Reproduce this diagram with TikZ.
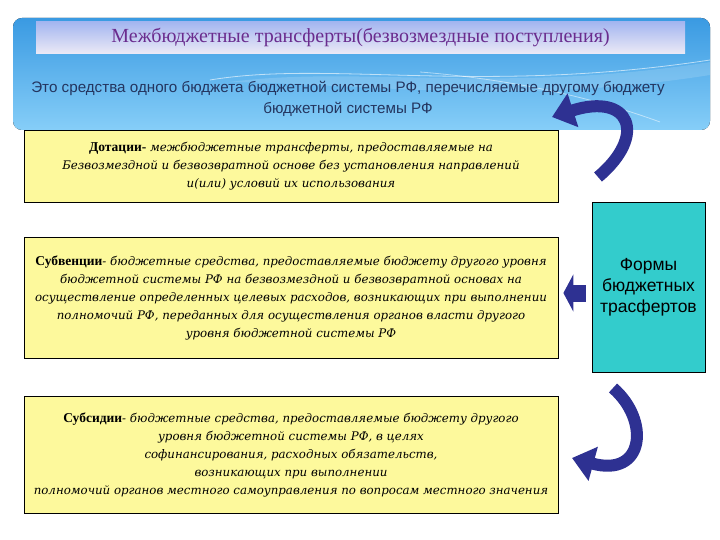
\documentclass[tikz,border=0pt]{standalone}
\usepackage{fontspec}
\setmainfont{Liberation Serif}
\newfontfamily\sansru{Liberation Sans}
\newfontfamily\serifwide{DejaVu Serif}
\usetikzlibrary{arrows.meta, positioning, calc}

\definecolor{bannertop}{HTML}{3A9AE2}
\definecolor{bannerbot}{HTML}{86CEF8}
\definecolor{titletop}{HTML}{A4B6F0}
\definecolor{titlebot}{HTML}{ECEAF6}
\definecolor{titleink}{HTML}{6A2C8E}
\definecolor{subink}{HTML}{24355F}
\definecolor{boxyellow}{HTML}{FDF99C}
\definecolor{formscyan}{HTML}{33CCCC}
\definecolor{arrowblue}{HTML}{2E3192}

\begin{document}
\begin{tikzpicture}[x=1pt, y=-1pt, >=Stealth,
  defbox/.style={draw, fill=boxyellow, line width=0.8pt, minimum width=534pt,
                 align=center, inner sep=0pt,
                 font=\serifwide\fontsize{11.8}{18}\selectfont\itshape},
  bigarrow/.style={arrowblue, line width=12pt,
                   -{Triangle[length=22pt, width=34pt]}}]
  \useasboundingbox (0,0) rectangle (720,540);

  % banner
  \fill[rounded corners=9pt, top color=bannertop, bottom color=bannerbot]
    (13,18) rectangle (710,130);
  \draw[white, opacity=0.6, line width=0.8pt]
    (210,80) .. controls (330,60) and (480,95) .. (710,60);
  \draw[white, opacity=0.5, line width=0.8pt]
    (420,72) .. controls (520,80) and (600,100) .. (660,122);
  \fill[white, opacity=0.15]
    (230,82) .. controls (360,65) and (500,95) .. (710,62)
    -- (710,75) .. controls (520,105) and (380,85) .. cycle;
  \node[minimum width=649pt, minimum height=32pt, inner sep=0pt,
        top color=titletop, bottom color=titlebot,
        font=\fontsize{20}{22}\selectfont, text=titleink] (title) at (360.5,38)
    {Межбюджетные трансферты(безвозмездные поступления)};
  \node[align=center, text=subink, font=\sansru\fontsize{15.2}{21}\selectfont]
    (what) at (348,99)
    {Это средства одного бюджета бюджетной системы РФ, перечисляемые другому бюджету\\
     бюджетной системы РФ};

  % forms of transfers
  \node[defbox, minimum height=72pt] (dot) at (291,166)
    {{\rmfamily\upshape\bfseries\fontsize{13.5}{18}\selectfont Дотации-} межбюджетные трансферты, предоставляемые на\\
     Безвозмездной и безвозвратной основе без установления направлений\\
     и(или) условий их использования};
  \node[defbox, minimum height=121pt, below=35pt of dot] (subv)
    {{\rmfamily\upshape\bfseries\fontsize{13.5}{18}\selectfont Субвенции}- бюджетные средства, предоставляемые бюджету другого уровня\\
     бюджетной системы РФ на безвозмездной и безвозвратной основах на\\
     осуществление определенных целевых расходов, возникающих при выполнении\\
     полномочий РФ, переданных для осуществления органов власти другого\\
     уровня бюджетной системы РФ};
  \node[defbox, minimum height=117pt, below=37pt of subv] (subs)
    {{\rmfamily\upshape\bfseries\fontsize{13.5}{18}\selectfont Субсидии}- бюджетные средства, предоставляемые бюджету другого\\
     уровня бюджетной системы РФ, в целях\\
     софинансирования, расходных обязательств,\\
     возникающих при выполнении\\
     полномочий органов местного самоуправления по вопросам местного значения};

  \node[draw, fill=formscyan, line width=0.8pt, minimum width=113pt,
        minimum height=170pt, align=center, inner sep=0pt,
        font=\sansru\fontsize{17.5}{21}\selectfont] (forms) at (648.5,287)
    {Формы\\бюджетных\\ трасфертов};

  % arrows
  \coordinate (topfrom) at (598,177);
  \coordinate (topto) at (552,117);
  \coordinate (botfrom) at (613,388);
  \coordinate (botto) at (572,458);
  \draw[bigarrow] (topfrom) .. controls (648,135) and (630,92) .. (topto);
  \draw[bigarrow] (botfrom) .. controls (650,420) and (645,478) .. (botto);
  \draw[arrowblue, line width=17pt, -{Triangle[length=10pt, width=37pt]},
        shorten <=6pt, shorten >=5pt] (forms.west |- 0,293) -- (subv.east |- 0,293);
\end{tikzpicture}
\end{document}
